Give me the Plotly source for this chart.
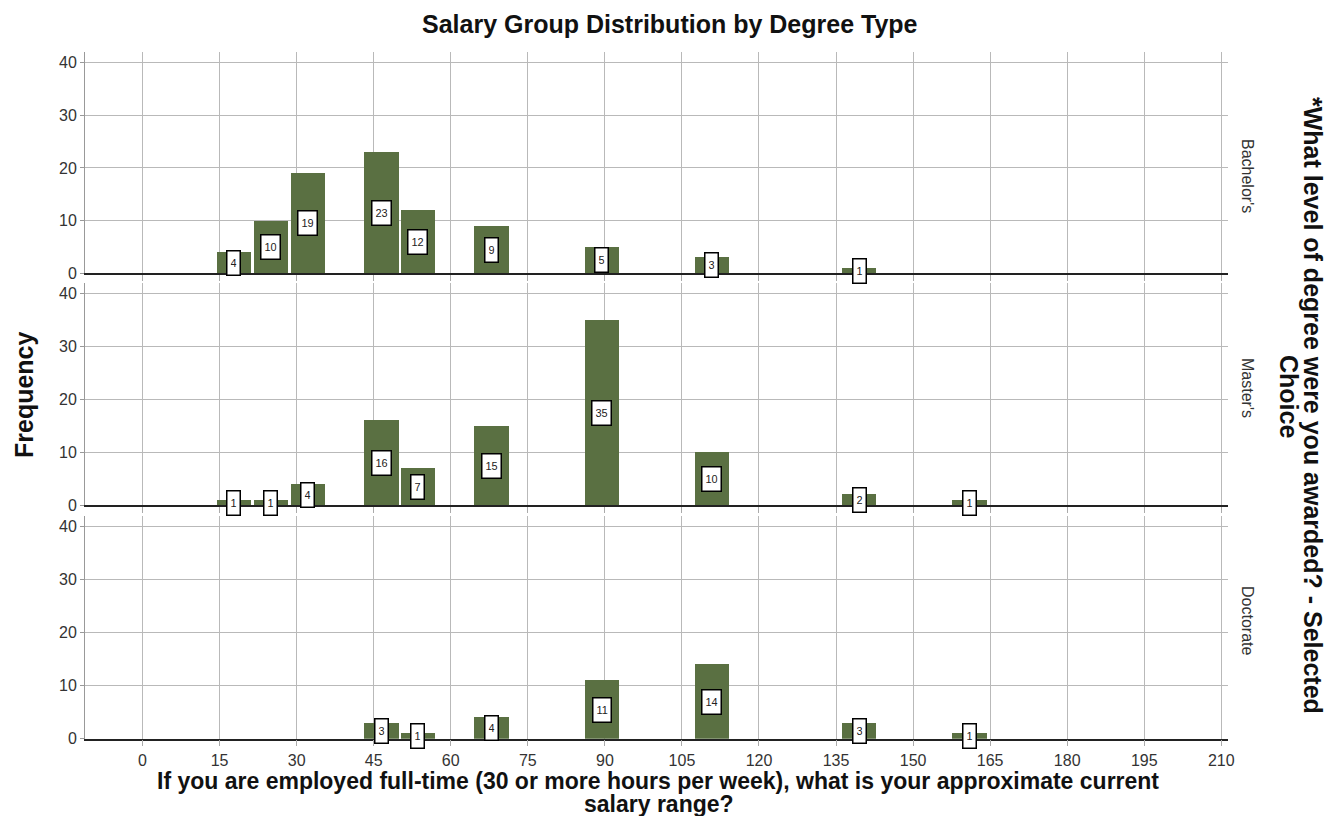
import plotly.graph_objects as go

# salary group centres (x) and counts per degree type
salary_mid = [17.8, 25, 32.2, 46.5, 53.6, 67.9, 89.4, 110.8, 139.5, 161]
degrees = ["Bachelor's", "Master's", "Doctorate"]
bachelor = [4, 10, 19, 23, 12, 9, 5, 3, 1, 0]
master = [1, 1, 4, 16, 7, 15, 35, 10, 2, 1]
doctorate = [0, 0, 0, 3, 1, 4, 11, 14, 3, 1]
x_ticks = list(range(0, 211, 15))
y_ticks = [0, 10, 20, 30, 40]

BAR = "#5a7042"
GRID = "#b9b9b9"
FONT = "Liberation Sans, Arial, sans-serif"

# the page has an 8px body margin, so the figure sits 8px in from the corner
W, H = 1332, 808
L, R, T, B = 77, 112, 44, 77
PW, PH = W - L - R, H - T - B


def px(x):
    return (x - 8 - L) / PW


def py(y):
    return 1 - (y - 8 - T) / PH


def clamp(v):
    return min(1.0, max(0.0, v))


counts = [bachelor, master, doctorate]
domains = [[py(273.3), py(52)], [py(505.3), py(283.3)], [py(738.7), py(516)]]
domains = [[clamp(a), clamp(b)] for a, b in domains]
facet_y = [176, 388, 620]

fig = go.Figure()
annotations = []

for i, (deg, vals) in enumerate(zip(degrees, counts)):
    n = "" if i == 0 else str(i + 1)
    xs = [x for x, v in zip(salary_mid, vals) if v > 0]
    ys = [v for v in vals if v > 0]
    fig.add_trace(go.Bar(
        x=xs, y=ys, width=6.7,
        marker=dict(color=BAR, line=dict(width=0)),
        xaxis="x" + n, yaxis="y" + n,
        showlegend=False, hoverinfo="x+y",
    ))
    for x, v in zip(xs, ys):
        annotations.append(dict(
            x=x, y=v / 2, xref="x" + n, yref="y" + n,
            xanchor="center", yanchor="middle",
            text=str(v), showarrow=False,
            font=dict(size=11, color="#222", family=FONT),
            bgcolor="white", bordercolor="black", borderwidth=1.5,
            borderpad=3, height=17,
        ))
    # facet label on the right
    annotations.append(dict(
        x=px(1248), y=py(facet_y[i]),
        xref="paper", yref="paper", text=deg, textangle=90,
        showarrow=False, xanchor="center", yanchor="middle",
        font=dict(size=16, color="#333", family=FONT),
    ))

xaxis_common = dict(
    range=[-11.2, 211.3], tickvals=x_ticks, showgrid=True, gridcolor=GRID,
    gridwidth=1.2, zeroline=False, showline=True, linecolor="#222",
    linewidth=1.5, ticks="outside", ticklen=6, tickcolor="#aaa",
    tickfont=dict(size=16, color="#333", family=FONT),
)
yaxis_common = dict(
    range=[0, 42], tickvals=y_ticks, showgrid=True, gridcolor=GRID,
    gridwidth=1.2, zeroline=False, showline=True, linecolor="#999",
    linewidth=1, ticks="outside", ticklen=4, tickcolor="#999",
    tickfont=dict(size=16, color="#333", family=FONT),
)

layout = dict(
    width=W, height=H,
    paper_bgcolor="white", plot_bgcolor="white",
    margin=dict(l=L, r=R, t=T, b=B),
    bargap=0, font=dict(family=FONT),
)
for i in range(3):
    n = "" if i == 0 else str(i + 1)
    xa = dict(xaxis_common, anchor="y" + n, showticklabels=(i == 2))
    if i > 0:
        xa["matches"] = "x"
    layout["xaxis" + n] = xa
    layout["yaxis" + n] = dict(yaxis_common, anchor="x" + n, domain=domains[i])

fig.update_layout(**layout)

texts = [
    # (page x, page y, text, angle, size)
    (670, 24, "<b>Salary Group Distribution by Degree Type</b>", 0, 25),
    (24, 395, "<b>Frequency</b>", -90, 25),
    (658, 781, "<b>If you are employed full-time (30 or more hours per week), "
               "what is your approximate current</b>", 0, 23),
    (659, 804, "<b>salary range?</b>", 0, 23),
    (1313, 405, "<b>*What level of degree were you awarded? - Selected</b>", 90, 25),
    (1289, 396, "<b>Choice</b>", 90, 25),
]
for x, y, t, ang, size in texts:
    annotations.append(dict(
        x=px(x), y=py(y), xref="paper", yref="paper",
        xanchor="center", yanchor="middle", text=t, textangle=ang,
        showarrow=False, font=dict(size=size, color="#111", family=FONT),
    ))
fig.update_layout(annotations=annotations)

fig.write_html("out.html")
